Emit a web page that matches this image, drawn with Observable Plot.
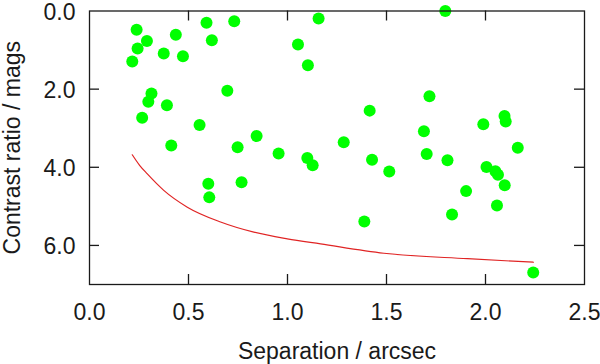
<!DOCTYPE html>
<html><head><meta charset="utf-8">
<script src="https://cdn.jsdelivr.net/npm/d3@7"></script>
<script src="https://cdn.jsdelivr.net/npm/@observablehq/plot@0.6"></script>
<style>html,body{margin:0;padding:0;background:#fff}</style>
</head><body><div id="chart"></div>
<script>
// Companion stars: separation (arcsec) and contrast (mags)
const separation = [0.238,0.290,0.243,0.216,0.375,0.436,0.472,0.591,0.618,0.731,1.053,1.157,1.103,1.797,0.313,0.297,0.391,0.266,0.696,0.556,0.413,0.748,0.844,0.955,1.100,1.127,0.600,0.605,0.768,1.415,1.284,1.427,1.514,1.388,1.717,1.689,1.703,1.808,1.989,2.096,2.102,2.163,2.005,2.050,2.063,2.097,1.902,2.058,1.831,2.241];
const contrast   = [0.48,0.77,0.96,1.29,1.09,0.61,1.16,0.30,0.75,0.26,0.86,0.19,1.39,0.00,2.11,2.32,2.41,2.73,2.04,2.92,3.44,3.49,3.20,3.65,3.76,3.95,4.42,4.77,4.38,2.55,3.36,3.81,4.11,5.39,2.18,3.08,3.66,3.82,2.90,2.69,2.83,3.50,3.99,4.10,4.19,4.46,4.61,4.98,5.21,6.69];
// Detection limit curve
const limitSep      = [0.216,0.253,0.292,0.375,0.494,0.662,0.830,0.999,1.167,1.487,1.909,2.242];
const limitContrast = [3.68,3.95,4.17,4.59,5.02,5.40,5.66,5.83,5.96,6.20,6.34,6.43];
// Ticks and labels
const xTicks = [0, 0.5, 1.0, 1.5, 2.0, 2.5];
const yTicks = [0, 2, 4, 6];
const xLabel = "Separation / arcsec";
const yLabel = "Contrast ratio / mags";

const stars = separation.map((s, i) => ({sep: s, mag: contrast[i]}));
const limit = limitSep.map((s, i) => ({sep: s, mag: limitContrast[i]}));
const innerX = xTicks.filter(t => t > 0 && t < 2.5);
const innerY = yTicks.filter(t => t > 0);
const ink = "#1a1a1a";

const W = 600, H = 364, ML = 89, MR = 16, MT = 10.5, MB = 80, TICK = 10;
const plotW = W - ML - MR, plotH = H - MT - MB;

const chart = Plot.plot({
  width: W, height: H,
  marginLeft: ML, marginRight: MR, marginTop: MT, marginBottom: MB,
  style: {fontFamily: "'Liberation Sans', Arial, sans-serif", fontSize: "23px", color: ink, background: "#fff"},
  x: {domain: [0, 2.5]},
  y: {domain: [0, 7], reverse: true},
  marks: [
    Plot.line(limit, {x: "sep", y: "mag", stroke: "#e02424", strokeWidth: 1.2, curve: "monotone-x"}),
    Plot.dot(stars, {x: "sep", y: "mag", r: 6, fill: "#00ff00"}),
    Plot.frame({stroke: ink, strokeWidth: 1.3}),
    // inward ticks
    Plot.ruleX(innerX, {x: d => d, insetTop: plotH - TICK, stroke: ink, strokeWidth: 1.3}),
    Plot.ruleX(innerX, {x: d => d, insetBottom: plotH - TICK, stroke: ink, strokeWidth: 1.3}),
    Plot.ruleY(innerY, {y: d => d, insetRight: plotW - TICK, stroke: ink, strokeWidth: 1.3}),
    Plot.ruleY(innerY, {y: d => d, insetLeft: plotW - TICK, stroke: ink, strokeWidth: 1.3}),
    // tick labels
    Plot.axisX({ticks: xTicks, anchor: "bottom", tickSize: 0, tickPadding: 19, tickFormat: d3.format(".1f"), label: null, fontSize: 23, fill: ink}),
    Plot.axisY({ticks: yTicks, anchor: "left", tickSize: 0, tickPadding: 14, dy: 1.5, tickFormat: d3.format(".1f"), label: null, fontSize: 23, fill: ink}),
    // axis titles
    Plot.text([xLabel], {frameAnchor: "bottom", dy: 67, fontSize: 23, fill: ink, lineAnchor: "middle", textAnchor: "middle"}),
    Plot.text([yLabel], {frameAnchor: "left", dx: -77, rotate: -90, fontSize: 23, fill: ink, lineAnchor: "middle", textAnchor: "middle"})
  ]
});
document.getElementById("chart").appendChild(chart);
</script>
</body></html>
